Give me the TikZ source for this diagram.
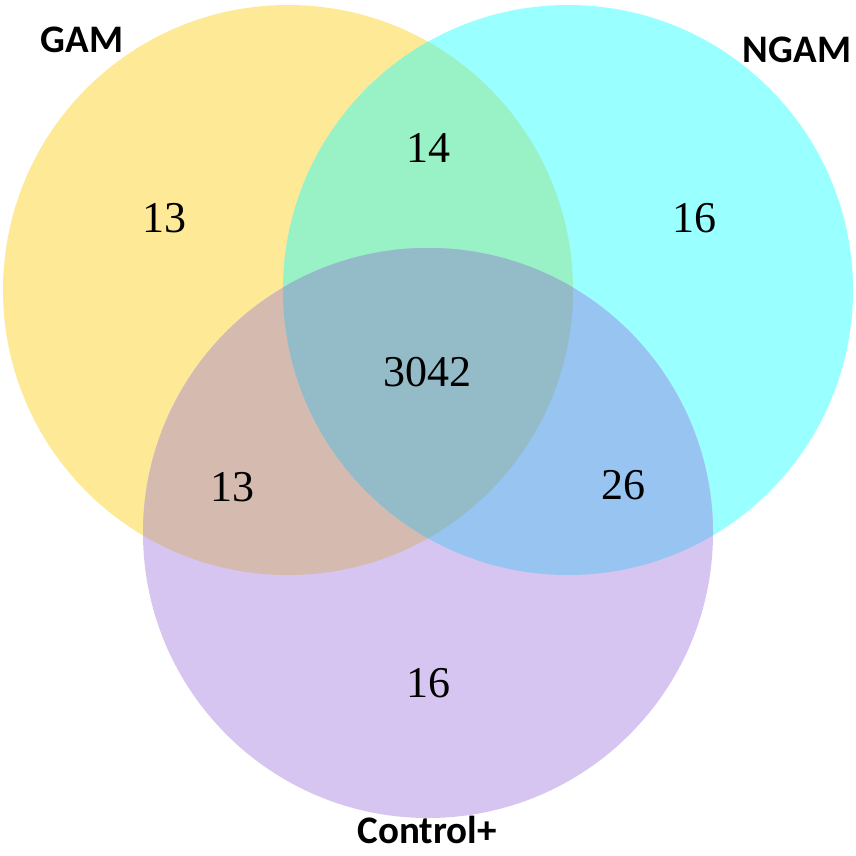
\documentclass[tikz,border=0pt]{standalone}
\usepackage{fontspec}
\setmainfont{Liberation Serif}
\newfontfamily\labelfont{Carlito}
\definecolor{cY}{HTML}{FDE996}
\definecolor{cC}{HTML}{99FFFF}
\definecolor{cP}{HTML}{D6C5F0}
\definecolor{cYC}{HTML}{98F2C6}
\definecolor{cYP}{HTML}{D5BAB0}
\definecolor{cCP}{HTML}{97C4F0}
\definecolor{cAll}{HTML}{93BCC8}
\tikzset{
  num/.style={font=\fontsize{44}{50}\selectfont, text=black, inner sep=0pt},
  setlabel/.style={font=\labelfont\bfseries\fontsize{39}{45}\selectfont, text=black, inner sep=0pt}
}
\begin{document}
\begin{tikzpicture}[x=1pt,y=-1pt]
\useasboundingbox (0,0) rectangle (856,855);
\def\gam{(288,290) circle (285)}
\def\ngam{(568,290) circle (285)}
\def\ctrl{(428,533) circle (285)}
\fill[cY] \gam;
\fill[cC] \ngam;
\fill[cP] \ctrl;
\begin{scope}
  \clip \gam;
  \fill[cYC] \ngam;
  \fill[cYP] \ctrl;
\end{scope}
\begin{scope}
  \clip \ngam;
  \fill[cCP] \ctrl;
\end{scope}
\begin{scope}
  \clip \gam;
  \clip \ngam;
  \fill[cAll] \ctrl;
\end{scope}
\node[setlabel] (lgam) at (82,40) {GAM};
\node[setlabel] (lngam) at (797,50) {NGAM};
\node[setlabel] (lctrl) at (427,830) {Control+};
\node[num] (n1) at (164,218) {13};
\node[num] (n2) at (428,148) {14};
\node[num] (n3) at (694,218) {16};
\node[num] (n4) at (427,372) {3042};
\node[num] (n5) at (232,487) {13};
\node[num] (n6) at (623,485) {26};
\node[num] (n7) at (428,683) {16};
\end{tikzpicture}
\end{document}
